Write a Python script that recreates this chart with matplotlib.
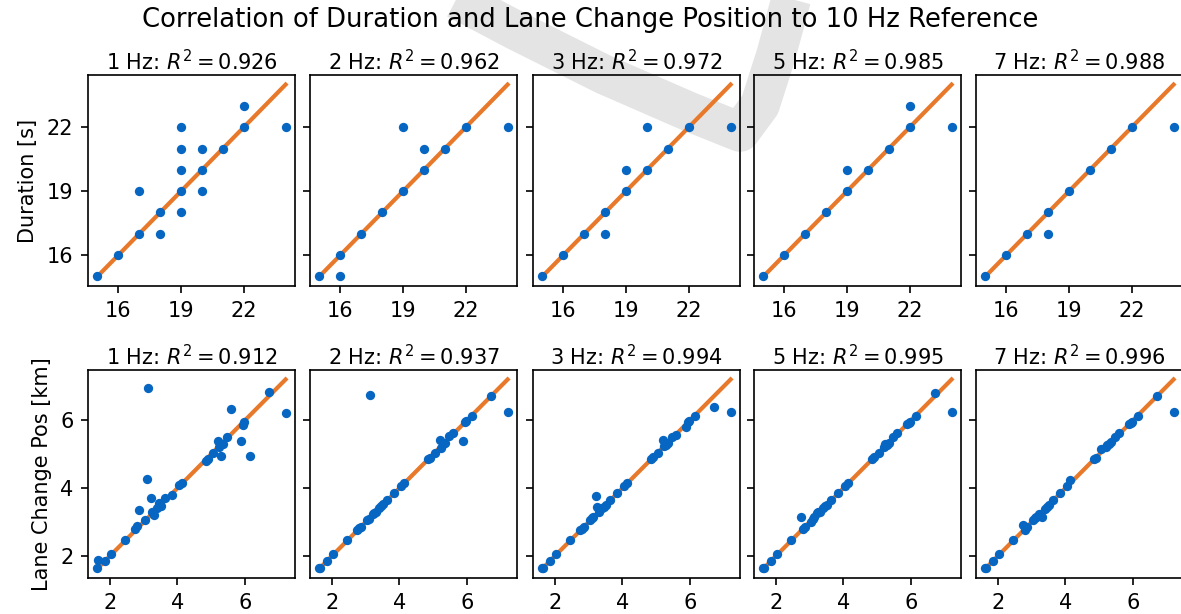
import matplotlib.pyplot as plt
from matplotlib.lines import Line2D

# sampling rates compared against the 10 Hz reference
rates = [1, 2, 3, 5, 7]
r2_duration = [0.926, 0.962, 0.972, 0.985, 0.988]
r2_position = [0.912, 0.937, 0.994, 0.995, 0.996]

# duration [s] : x = 10 Hz reference, y = downsampled
dur_x = {
    1: [15, 16, 17, 17, 18, 18, 19, 19, 19, 19, 19, 20, 20, 20, 21, 22, 22, 24],
    2: [15, 16, 16, 17, 18, 19, 19, 20, 20, 21, 22, 24],
    3: [15, 16, 17, 18, 18, 19, 19, 20, 20, 21, 22, 24],
    5: [15, 16, 17, 18, 19, 19, 20, 21, 22, 22, 24],
    7: [15, 16, 17, 18, 18, 19, 20, 21, 22, 24],
}
dur_y = {
    1: [15, 16, 17, 19, 18, 17, 22, 21, 20, 19, 18, 21, 20, 19, 21, 23, 22, 22],
    2: [15, 16, 15, 17, 18, 19, 22, 20, 21, 21, 22, 22],
    3: [15, 16, 17, 18, 17, 19, 20, 20, 22, 21, 22, 22],
    5: [15, 16, 17, 18, 19, 20, 20, 21, 22, 23, 22],
    7: [15, 16, 17, 18, 17, 19, 20, 21, 22, 22],
}

# lane change position [km] : 10 Hz reference
pos_ref = [1.63, 1.65, 1.84, 2.04, 2.44, 2.74, 2.80, 2.85, 3.04, 3.09, 3.14, 3.22,
           3.26, 3.31, 3.38, 3.45, 3.50, 3.64, 3.84, 4.04, 4.14, 4.85, 4.90, 5.04,
           5.19, 5.23, 5.28, 5.34, 5.48, 5.58, 5.89, 5.94, 5.97, 6.14, 6.71, 7.20]
pos_y = {
    1: [1.65, 1.87, 1.85, 2.06, 2.46, 2.80, 2.88, 3.36, 3.05, 4.26, 6.95, 3.72,
        3.30, 3.20, 3.42, 3.55, 3.48, 3.70, 3.81, 4.08, 4.16, 4.81, 4.86, 5.04,
        5.40, 5.22, 4.95, 5.30, 5.50, 6.34, 5.40, 5.87, 5.95, 4.95, 6.83, 6.20],
    2: [1.65, 1.65, 1.85, 2.05, 2.46, 2.78, 2.82, 2.86, 3.07, 3.10, 6.75, 3.24,
        3.27, 3.30, 3.40, 3.48, 3.53, 3.66, 3.85, 4.07, 4.15, 4.85, 4.90, 5.04,
        5.43, 5.19, 5.29, 5.34, 5.53, 5.61, 5.40, 5.95, 5.97, 6.13, 6.70, 6.24],
    3: [1.65, 1.65, 1.85, 2.05, 2.46, 2.78, 2.80, 2.85, 3.07, 3.12, 3.16, 3.76,
        3.43, 3.30, 3.40, 3.45, 3.50, 3.66, 3.85, 4.07, 4.15, 4.87, 4.92, 5.04,
        5.43, 5.24, 5.28, 5.34, 5.50, 5.56, 5.80, 5.95, 5.98, 6.13, 6.39, 6.24],
    5: [1.65, 1.65, 1.85, 2.05, 2.46, 3.14, 2.80, 2.86, 3.01, 3.09, 3.14, 3.27,
        3.31, 3.30, 3.40, 3.47, 3.50, 3.66, 3.85, 4.07, 4.15, 4.87, 4.92, 5.04,
        5.22, 5.29, 5.26, 5.34, 5.51, 5.61, 5.89, 5.93, 5.95, 6.13, 6.80, 6.24],
    7: [1.65, 1.65, 1.85, 2.05, 2.46, 2.92, 2.78, 2.85, 3.06, 3.11, 3.14, 3.24,
        3.22, 3.14, 3.38, 3.43, 3.50, 3.66, 3.85, 4.07, 4.24, 4.85, 4.90, 5.14,
        5.22, 5.26, 5.31, 5.36, 5.51, 5.61, 5.89, 5.93, 5.95, 6.13, 6.70, 6.24],
}

blue = "#0766c2"
orange = "#e8782a"

fig = plt.figure(figsize=(1181 / 150, 614 / 150), dpi=150)

# light grey swoosh in the background
sx = [430, 515, 605, 690, 740, 760, 776, 795]
sy = [-15, 30, 75, 112, 132, 105, 55, -15]
fig.add_artist(Line2D([v / 1181 for v in sx], [1 - v / 614 for v in sy],
                      transform=fig.transFigure, color="#e4e4e4", lw=19,
                      solid_joinstyle="round", solid_capstyle="butt", zorder=-1))

lefts = [88, 310, 533, 754, 976]
w = 207 / 1181
top_row = []
bot_row = []
for i, hz in enumerate(rates):
    l = lefts[i] / 1181
    ax1 = fig.add_axes([l, 328 / 614, w, 211 / 614],
                       sharey=top_row[0] if top_row else None,
                       sharex=top_row[0] if top_row else None)
    ax2 = fig.add_axes([l, 36 / 614, w, 208 / 614],
                       sharey=bot_row[0] if bot_row else None,
                       sharex=bot_row[0] if bot_row else None)
    top_row.append(ax1)
    bot_row.append(ax2)

    # duration
    ax1.set_facecolor("none")
    ax1.plot([15, 24], [15, 24], color=orange, lw=2, zorder=2)
    ax1.scatter(dur_x[hz], dur_y[hz], s=20, color=blue, zorder=3, linewidths=0)
    ax1.set_title(f"{hz} Hz: $R^2 = {r2_duration[i]:.3f}$", fontsize=10, pad=2.5)
    ax1.set_xticks([16, 19, 22])
    ax1.set_yticks([16, 19, 22])

    # lane change position
    ax2.set_facecolor("none")
    ax2.plot([min(pos_ref), max(pos_ref)], [min(pos_ref), max(pos_ref)],
             color=orange, lw=2, zorder=2)
    ax2.scatter(pos_ref, pos_y[hz], s=20, color=blue, zorder=3, linewidths=0)
    ax2.set_title(f"{hz} Hz: $R^2 = {r2_position[i]:.3f}$", fontsize=10, pad=2.5)
    ax2.set_xticks([2, 4, 6])
    ax2.set_yticks([2, 4, 6])

    if i > 0:
        ax1.tick_params(labelleft=False)
        ax2.tick_params(labelleft=False)

top_row[0].set_ylabel("Duration [s]")
bot_row[0].set_ylabel("Lane Change Pos [km]")

fig.suptitle("Correlation of Duration and Lane Change Position to 10 Hz Reference",
             fontsize=12.4, y=0.988)

fig.savefig("out.png", dpi=150)
